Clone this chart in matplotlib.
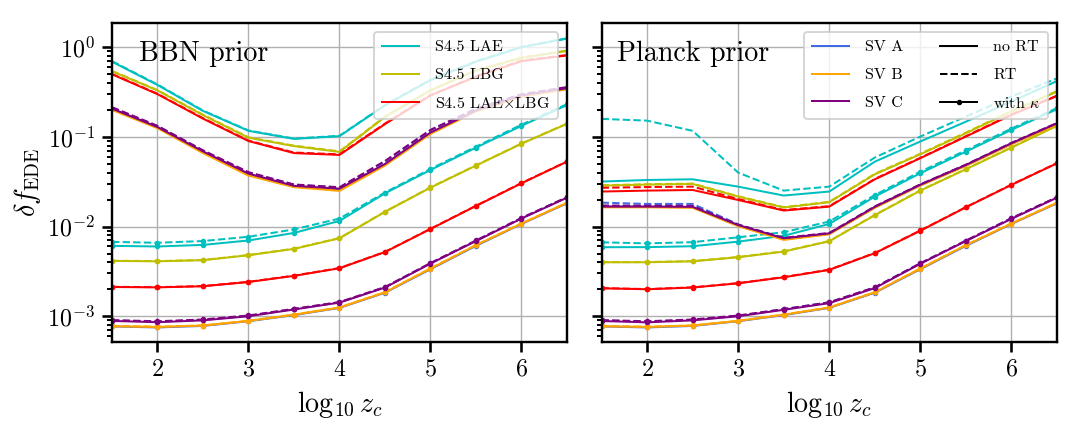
import matplotlib
matplotlib.use("Agg")
import matplotlib.pyplot as plt
from matplotlib.lines import Line2D

plt.rcParams.update({
    "font.family": "serif",
    "font.serif": ["cmr10"],
    "mathtext.fontset": "cm",
    "axes.formatter.use_mathtext": True,
    "axes.unicode_minus": False,
    "axes.linewidth": 1.2,
})

# ---------------- data ----------------
log_zc = [1.5, 2.0, 2.5, 3.0, 3.5, 4.0, 4.5, 5.0, 5.5, 6.0, 6.5]

surveys = ["S4.5 LAE", "S4.5 LBG", "S4.5 LAE$\\times$LBG", "SV A", "SV B", "SV C"]
colors = ["c", "y", "r", "royalblue", "orange", "purple"]

# BBN prior, no kappa
bbn_lae_nort = [0.69, 0.38, 0.195, 0.117, 0.095, 0.102, 0.225, 0.43, 0.69, 1.0, 1.25]
bbn_lae_rt = [0.70, 0.385, 0.197, 0.118, 0.096, 0.103, 0.227, 0.435, 0.70, 1.01, 1.26]
bbn_lbg_nort = [0.54, 0.33, 0.175, 0.098, 0.079, 0.068, 0.167, 0.33, 0.55, 0.76, 0.91]
bbn_lbg_rt = [0.545, 0.333, 0.177, 0.099, 0.080, 0.069, 0.169, 0.333, 0.555, 0.77, 0.92]
bbn_x_nort = [0.50, 0.30, 0.16, 0.090, 0.066, 0.063, 0.139, 0.29, 0.47, 0.70, 0.81]
bbn_x_rt = [0.505, 0.303, 0.162, 0.091, 0.067, 0.064, 0.141, 0.293, 0.475, 0.71, 0.82]
bbn_sva_nort = [0.205, 0.128, 0.068, 0.038, 0.028, 0.026, 0.049, 0.110, 0.195, 0.285, 0.345]
bbn_sva_rt = [0.212, 0.132, 0.070, 0.040, 0.0293, 0.0272, 0.053, 0.118, 0.205, 0.295, 0.355]
bbn_svb_nort = [0.200, 0.125, 0.066, 0.037, 0.0275, 0.025, 0.048, 0.108, 0.192, 0.28, 0.34]
bbn_svb_rt = [0.203, 0.127, 0.067, 0.0375, 0.028, 0.0255, 0.049, 0.110, 0.195, 0.285, 0.345]
bbn_svc_nort = [0.207, 0.129, 0.069, 0.039, 0.0285, 0.0265, 0.050, 0.112, 0.197, 0.29, 0.35]
bbn_svc_rt = [0.215, 0.133, 0.071, 0.0405, 0.0295, 0.0275, 0.054, 0.120, 0.207, 0.30, 0.36]

# BBN prior, with kappa
bbn_lae_k_nort = [0.0061, 0.0060, 0.00625, 0.0070, 0.0085, 0.01157, 0.0235, 0.0428, 0.076, 0.133, 0.227]
bbn_lae_k_rt = [0.00675, 0.0066, 0.0069, 0.0077, 0.0093, 0.0123, 0.024, 0.044, 0.078, 0.137, 0.232]
bbn_lbg_k_nort = [0.00414, 0.0041, 0.00422, 0.00479, 0.00564, 0.0074, 0.0146, 0.0272, 0.0479, 0.084, 0.14]
bbn_lbg_k_rt = [0.00416, 0.00412, 0.00424, 0.00482, 0.00568, 0.00745, 0.0147, 0.0274, 0.0482, 0.0845, 0.141]
bbn_x_k_nort = [0.00212, 0.0021, 0.00216, 0.00241, 0.00282, 0.00343, 0.0052, 0.0094, 0.0170, 0.0304, 0.053]
bbn_x_k_rt = [0.00213, 0.00211, 0.00217, 0.00242, 0.00284, 0.00345, 0.00523, 0.00945, 0.0171, 0.0306, 0.0533]
bbn_sva_k_nort = [0.00077, 0.00075, 0.00078, 0.00088, 0.00103, 0.00124, 0.00183, 0.00335, 0.0061, 0.0107, 0.0182]
bbn_sva_k_rt = [0.00090, 0.00087, 0.00091, 0.00101, 0.0012, 0.00143, 0.0021, 0.0039, 0.00695, 0.0124, 0.0212]
bbn_svb_k_nort = [0.000773, 0.00076, 0.000787, 0.000887, 0.00104, 0.00125, 0.00185, 0.0034, 0.0062, 0.0108, 0.0184]
bbn_svb_k_rt = [0.00078, 0.000765, 0.00079, 0.00089, 0.001045, 0.001255, 0.00186, 0.00342, 0.00623, 0.01085, 0.0185]
bbn_svc_k_nort = [0.000887, 0.000858, 0.0009, 0.001, 0.00119, 0.00142, 0.00209, 0.00387, 0.0069, 0.0123, 0.021]
bbn_svc_k_rt = [0.000905, 0.00088, 0.00092, 0.00102, 0.00121, 0.00144, 0.00212, 0.00392, 0.0070, 0.0125, 0.0213]

# Planck prior, no kappa
pl_lae_nort = [0.0318, 0.0331, 0.0337, 0.0279, 0.0222, 0.0246, 0.053, 0.089, 0.148, 0.248, 0.42]
pl_lae_rt = [0.159, 0.152, 0.117, 0.040, 0.0252, 0.0279, 0.0589, 0.101, 0.169, 0.282, 0.45]
pl_lbg_nort = [0.0286, 0.0294, 0.0299, 0.0216, 0.0163, 0.0187, 0.0383, 0.064, 0.110, 0.192, 0.32]
pl_lbg_rt = [0.0289, 0.0297, 0.0302, 0.0218, 0.0165, 0.0189, 0.0388, 0.065, 0.112, 0.195, 0.325]
pl_x_nort = [0.0246, 0.0252, 0.0256, 0.0198, 0.0151, 0.0167, 0.0337, 0.058, 0.101, 0.176, 0.286]
pl_x_rt = [0.0271, 0.0276, 0.0279, 0.0203, 0.0153, 0.0169, 0.034, 0.0585, 0.102, 0.178, 0.289]
pl_sva_nort = [0.0167, 0.0167, 0.0165, 0.0103, 0.0073, 0.0083, 0.0164, 0.029, 0.048, 0.084, 0.14]
pl_sva_rt = [0.0185, 0.0179, 0.0179, 0.0106, 0.0074, 0.0084, 0.0166, 0.0294, 0.049, 0.085, 0.142]
pl_svb_nort = [0.0164, 0.0164, 0.0162, 0.0101, 0.0071, 0.0082, 0.0162, 0.0287, 0.0475, 0.083, 0.138]
pl_svb_rt = [0.0166, 0.0166, 0.0164, 0.0102, 0.0072, 0.0083, 0.0163, 0.0289, 0.0478, 0.0835, 0.139]
pl_svc_nort = [0.0167, 0.0167, 0.0166, 0.0104, 0.0074, 0.0084, 0.0166, 0.0293, 0.0487, 0.085, 0.142]
pl_svc_rt = [0.0172, 0.0171, 0.0170, 0.0105, 0.0075, 0.0085, 0.0168, 0.0296, 0.049, 0.086, 0.143]

# Planck prior, with kappa
pl_lae_k_nort = [0.00589, 0.0059, 0.00604, 0.0068, 0.0079, 0.0107, 0.0216, 0.0394, 0.0686, 0.12, 0.204]
pl_lae_k_rt = [0.00668, 0.0065, 0.0067, 0.0076, 0.00865, 0.0114, 0.0225, 0.041, 0.071, 0.124, 0.21]
pl_lbg_k_nort = [0.0040, 0.0040, 0.0041, 0.00455, 0.00526, 0.00686, 0.0134, 0.0252, 0.0436, 0.076, 0.133]
pl_lbg_k_rt = [0.00402, 0.00402, 0.00412, 0.00458, 0.0053, 0.0069, 0.0135, 0.0254, 0.0439, 0.0765, 0.134]
pl_x_k_nort = [0.00205, 0.0020, 0.00209, 0.00233, 0.00272, 0.00329, 0.00505, 0.0090, 0.0164, 0.0292, 0.0508]
pl_x_k_rt = [0.00206, 0.00201, 0.0021, 0.00234, 0.00274, 0.00331, 0.00508, 0.00905, 0.0165, 0.0294, 0.0511]
pl_sva_k_nort = [0.00077, 0.00075, 0.00078, 0.00088, 0.00103, 0.00124, 0.00183, 0.00335, 0.0061, 0.0107, 0.0182]
pl_sva_k_rt = [0.00090, 0.00087, 0.00091, 0.00101, 0.0012, 0.00143, 0.0021, 0.0039, 0.00695, 0.0124, 0.0212]
pl_svb_k_nort = [0.000773, 0.00076, 0.000787, 0.000887, 0.00104, 0.00125, 0.00185, 0.0034, 0.0062, 0.0108, 0.0184]
pl_svb_k_rt = [0.00078, 0.000765, 0.00079, 0.00089, 0.001045, 0.001255, 0.00186, 0.00342, 0.00623, 0.01085, 0.0185]
pl_svc_k_nort = [0.000885, 0.000855, 0.0009, 0.001, 0.00118, 0.0014, 0.00206, 0.00385, 0.0069, 0.0122, 0.021]
pl_svc_k_rt = [0.000905, 0.00088, 0.00092, 0.00102, 0.0012, 0.00143, 0.0021, 0.0039, 0.00698, 0.0124, 0.0213]

bbn_sets = [
    (bbn_lae_nort, bbn_lae_rt, bbn_lae_k_nort, bbn_lae_k_rt),
    (bbn_lbg_nort, bbn_lbg_rt, bbn_lbg_k_nort, bbn_lbg_k_rt),
    (bbn_x_nort, bbn_x_rt, bbn_x_k_nort, bbn_x_k_rt),
    (bbn_sva_nort, bbn_sva_rt, bbn_sva_k_nort, bbn_sva_k_rt),
    (bbn_svb_nort, bbn_svb_rt, bbn_svb_k_nort, bbn_svb_k_rt),
    (bbn_svc_nort, bbn_svc_rt, bbn_svc_k_nort, bbn_svc_k_rt),
]
pl_sets = [
    (pl_lae_nort, pl_lae_rt, pl_lae_k_nort, pl_lae_k_rt),
    (pl_lbg_nort, pl_lbg_rt, pl_lbg_k_nort, pl_lbg_k_rt),
    (pl_x_nort, pl_x_rt, pl_x_k_nort, pl_x_k_rt),
    (pl_sva_nort, pl_sva_rt, pl_sva_k_nort, pl_sva_k_rt),
    (pl_svb_nort, pl_svb_rt, pl_svb_k_nort, pl_svb_k_rt),
    (pl_svc_nort, pl_svc_rt, pl_svc_k_nort, pl_svc_k_rt),
]

# ---------------- figure ----------------
fig = plt.figure(figsize=(7.5, 3.0), dpi=144)
ax1 = fig.add_axes([0.1037, 0.209, 0.4213, 0.737])
ax2 = fig.add_axes([0.557, 0.209, 0.4217, 0.737], sharey=ax1)

LW = 1.0
MS = 3.5
for ax, sets in ((ax1, bbn_sets), (ax2, pl_sets)):
    for col, (nort, rt, knort, krt) in zip(colors, sets):
        ax.plot(log_zc, nort, color=col, ls="-", lw=LW)
        ax.plot(log_zc, rt, color=col, ls="--", lw=LW)
        ax.plot(log_zc, knort, color=col, ls="-", lw=LW, marker=".", ms=MS)
        ax.plot(log_zc, krt, color=col, ls="--", lw=LW, marker=".", ms=MS)
    ax.set_yscale("log")
    ax.set_xlim(1.5, 6.5)
    ax.set_ylim(5.2e-4, 1.85)
    ax.set_xticks([2, 3, 4, 5, 6])
    ax.grid(True, which="major", color="#b0b0b0", lw=0.7)
    ax.tick_params(which="major", direction="out", length=5, width=1.3,
                   labelsize=12, top=False, right=False)
    ax.tick_params(which="minor", direction="out", length=2.5, width=1.0,
                   top=False, right=False)
    ax.tick_params(axis="x", which="minor", bottom=False)
    ax.set_xlabel(r"$\log_{10} z_c$", fontsize=14)

ax1.set_ylabel(r"$\delta f_{\rm EDE}$", fontsize=14, labelpad=2)
plt.setp(ax2.get_yticklabels(), visible=False)

ax1.text(0.06, 0.945, "BBN prior", transform=ax1.transAxes, fontsize=14,
         ha="left", va="top")
ax2.text(0.033, 0.945, "Planck prior", transform=ax2.transAxes, fontsize=14,
         ha="left", va="top")

leg_kw = dict(fontsize=8, labelspacing=0.85, borderpad=0.5, handlelength=2.3,
              handletextpad=1.0, borderaxespad=0.55)

h1 = [Line2D([], [], color=c, lw=LW) for c in colors[:3]]
ax1.legend(h1, surveys[:3], loc="upper right", **leg_kw)

h2 = [Line2D([], [], color=c, lw=LW) for c in colors[3:]]
h2 += [Line2D([], [], color="k", ls="-", lw=LW),
       Line2D([], [], color="k", ls="--", lw=LW),
       Line2D([], [], color="k", ls="-", lw=LW, marker=".", ms=MS)]
l2 = surveys[3:] + ["no RT", "RT", r"with $\kappa$"]
ax2.legend(h2, l2, loc="upper right", ncol=2, columnspacing=2.3, **leg_kw)

fig.savefig("out.png", dpi=144)
